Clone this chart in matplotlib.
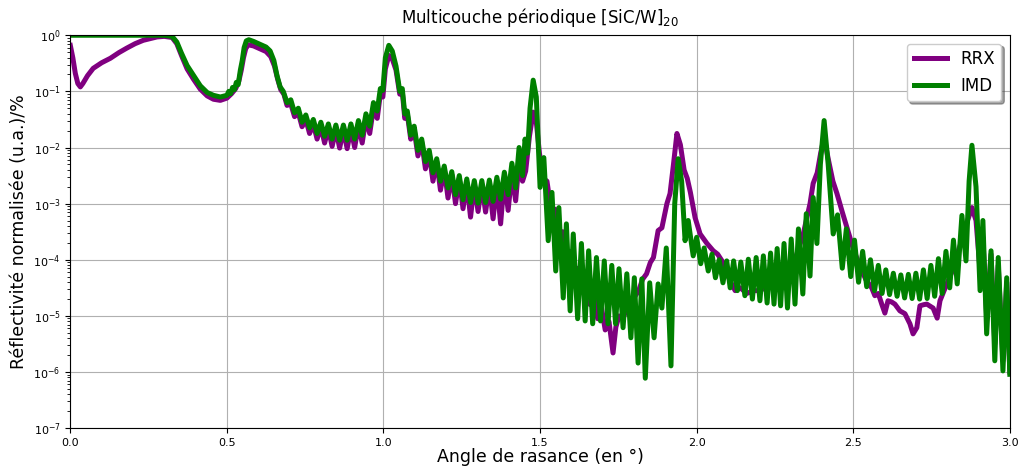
#!/usr/bin/env python3
"Reflectivite X d'une multicouche periodique [SiC/W]20 : mesure RRX et simulation IMD"

import numpy as np
import matplotlib
matplotlib.use("Agg")
import matplotlib.pyplot as plt

# Valeurs : angle (deg) et log10 de la reflectivite normalisee
# (extrema des franges de Kiessig et points de forme)

imd_angle = [
    0.000, 0.100, 0.200, 0.300, 0.325, 0.340, 0.355, 0.373, 0.393, 0.415,
    0.437, 0.457, 0.479, 0.500, 0.506, 0.512, 0.518, 0.524, 0.530, 0.536,
    0.543, 0.549, 0.555, 0.562, 0.570, 0.585, 0.605, 0.625, 0.638, 0.650,
    0.660, 0.670, 0.680,
    0.692, 0.704, 0.716, 0.728, 0.740, 0.752, 0.764, 0.776, 0.788, 0.800,
    0.812, 0.824, 0.836, 0.848, 0.860, 0.872, 0.884, 0.896, 0.908, 0.920,
    0.932, 0.944, 0.956, 0.968, 0.980, 0.990, 0.998, 1.006, 1.017, 1.028,
    1.040, 1.052, 1.060, 1.068, 1.076, 1.087, 1.098, 1.110, 1.122, 1.134,
    1.146, 1.158, 1.170, 1.182, 1.194, 1.206, 1.218, 1.230, 1.242, 1.254,
    1.266, 1.278, 1.290, 1.302, 1.314, 1.326, 1.338, 1.350, 1.362, 1.374,
    1.386, 1.398, 1.410, 1.422, 1.433, 1.444, 1.452, 1.460, 1.468, 1.478,
    1.488, 1.500, 1.512, 1.526, 1.538, 1.550, 1.560, 1.574, 1.584, 1.596,
    1.606, 1.620, 1.632, 1.644, 1.655, 1.668, 1.680, 1.693, 1.705, 1.717,
    1.729, 1.741, 1.752, 1.765, 1.777, 1.790, 1.801, 1.813, 1.825, 1.836,
    1.850, 1.864, 1.877, 1.889, 1.903, 1.918, 1.930, 1.941, 1.952, 1.963,
    1.973, 1.989, 2.000, 2.013, 2.024, 2.037, 2.049, 2.060, 2.072, 2.084,
    2.096, 2.107, 2.118, 2.130, 2.141, 2.154, 2.165, 2.178, 2.190, 2.202,
    2.213, 2.225, 2.236, 2.247, 2.257, 2.268, 2.279, 2.290, 2.302, 2.314,
    2.325, 2.339, 2.350, 2.362, 2.372, 2.384, 2.395, 2.407, 2.420, 2.436,
    2.450, 2.465, 2.478, 2.492, 2.504, 2.517, 2.530, 2.543, 2.555, 2.568,
    2.580, 2.592, 2.604, 2.616, 2.628, 2.640, 2.652, 2.664, 2.676, 2.688,
    2.700, 2.712, 2.724, 2.736, 2.748, 2.760, 2.772, 2.784, 2.796, 2.808,
    2.820, 2.832, 2.847, 2.860, 2.870, 2.879, 2.892, 2.905, 2.914, 2.926,
    2.940, 2.952, 2.963, 2.978, 2.990, 3.000,
]
imd_log_r = [
    0.00, 0.00, 0.00, 0.00, -0.02, -0.12, -0.32, -0.54, -0.71, -0.90,
    -1.02, -1.07, -1.10, -1.07, -1.00, -1.04, -0.93, -0.97, -0.84, -0.88,
    -0.62, -0.45, -0.22, -0.10, -0.08, -0.11, -0.16, -0.21, -0.28, -0.45,
    -0.72, -0.92, -1.00,
    -1.20, -1.15, -1.38, -1.30, -1.55, -1.42, -1.65, -1.50, -1.75, -1.55,
    -1.80, -1.58, -1.85, -1.60, -1.87, -1.60, -1.87, -1.58, -1.85, -1.52,
    -1.78, -1.40, -1.62, -1.20, -1.35, -0.95, -0.98, -0.40, -0.18, -0.28,
    -0.55, -1.00, -0.95, -1.40, -1.35, -1.78, -1.62, -2.05, -1.85, -2.25,
    -2.05, -2.45, -2.20, -2.60, -2.33, -2.72, -2.43, -2.84, -2.50, -2.93,
    -2.56, -2.98, -2.59, -2.99, -2.59, -2.98, -2.58, -2.96, -2.53, -2.92,
    -2.44, -2.84, -2.28, -2.72, -2.00, -2.50, -1.85, -2.10, -1.30, -0.80,
    -1.10, -2.71, -2.18, -3.66, -2.80, -4.20, -3.07, -4.68, -3.36, -4.91,
    -3.54, -5.05, -3.71, -5.09, -3.84, -5.14, -3.96, -5.09, -4.02, -5.14,
    -4.10, -5.14, -4.16, -5.21, -4.25, -5.39, -4.32, -5.84, -4.34, -6.11,
    -4.41, -5.39, -4.43, -4.86, -3.79, -5.89, -3.00, -2.20, -2.60, -3.66,
    -3.30, -3.93, -3.60, -4.07, -3.79, -4.20, -3.90, -4.32, -4.00, -4.41,
    -4.02, -4.50, -4.02, -4.55, -4.04, -4.64, -3.99, -4.70, -3.96, -4.73,
    -3.93, -4.77, -3.88, -4.79, -3.80, -4.82, -3.71, -4.86, -3.63, -4.79,
    -3.45, -4.61, -3.18, -4.29, -2.89, -3.71, -2.30, -1.52, -2.30, -3.54,
    -3.20, -4.15, -3.45, -4.30, -3.65, -4.40, -3.85, -4.48, -4.00, -4.55,
    -4.10, -4.60, -4.18, -4.62, -4.24, -4.65, -4.27, -4.68, -4.26, -4.69,
    -4.24, -4.70, -4.18, -4.69, -4.10, -4.65, -3.98, -4.60, -3.85, -4.50,
    -3.65, -4.43, -3.21, -4.02, -2.60, -1.96, -2.70, -4.55, -3.30, -5.32,
    -3.84, -5.80, -3.96, -5.98, -4.32, -6.04,
]

rrx_angle = [
    0.000, 0.008, 0.016, 0.024, 0.032, 0.040, 0.055, 0.073, 0.100, 0.128,
    0.155, 0.180, 0.207, 0.233, 0.277, 0.300, 0.325, 0.340, 0.355, 0.373,
    0.393, 0.415, 0.437, 0.457, 0.479, 0.500, 0.515, 0.528, 0.538, 0.546,
    0.553, 0.560, 0.568, 0.585, 0.605, 0.625, 0.640, 0.652, 0.662, 0.672,
    0.682,
    0.692, 0.704, 0.716, 0.728, 0.740, 0.752, 0.764, 0.776, 0.788, 0.800,
    0.812, 0.824, 0.836, 0.848, 0.860, 0.872, 0.884, 0.896, 0.908, 0.920,
    0.932, 0.944, 0.956, 0.968, 0.980, 0.990, 0.998, 1.006, 1.017, 1.028,
    1.040, 1.052, 1.060, 1.068, 1.076, 1.087, 1.098, 1.110, 1.122, 1.134,
    1.146, 1.158, 1.170, 1.182, 1.194, 1.206, 1.218, 1.230, 1.242, 1.254,
    1.266, 1.278, 1.290, 1.302, 1.314, 1.326, 1.338, 1.350, 1.362, 1.374,
    1.386, 1.398, 1.410, 1.422, 1.433, 1.444, 1.454, 1.466, 1.478, 1.488,
    1.498, 1.510, 1.522, 1.535, 1.548, 1.560, 1.572, 1.585, 1.597, 1.610,
    1.622, 1.635, 1.647, 1.660, 1.672, 1.684, 1.696, 1.708, 1.720, 1.733,
    1.742, 1.752, 1.765, 1.777, 1.790, 1.803, 1.815, 1.827, 1.840, 1.852,
    1.862, 1.877, 1.889, 1.905, 1.915, 1.926, 1.937, 1.948, 1.960, 1.970,
    1.980, 1.995, 2.011, 2.033, 2.053, 2.067, 2.081, 2.095, 2.107, 2.123,
    2.140, 2.160, 2.180, 2.200, 2.220, 2.240, 2.260, 2.280, 2.300, 2.320,
    2.340, 2.352, 2.362, 2.372, 2.385, 2.396, 2.407, 2.420, 2.435, 2.448,
    2.465, 2.480, 2.500, 2.520, 2.540, 2.559, 2.569, 2.580, 2.591, 2.601,
    2.611, 2.622, 2.633, 2.649, 2.665, 2.681, 2.691, 2.703, 2.713, 2.725,
    2.735, 2.755, 2.768, 2.777, 2.790, 2.805, 2.820, 2.835, 2.850, 2.862,
    2.879, 2.892, 2.905, 2.914, 2.926, 2.940, 2.952, 2.963, 2.978, 2.990,
    3.000,
]
rrx_log_r = [
    -0.18, -0.40, -0.68, -0.86, -0.92, -0.86, -0.72, -0.59, -0.49, -0.41,
    -0.31, -0.23, -0.15, -0.09, -0.03, -0.02, -0.04, -0.15, -0.36, -0.60,
    -0.78, -0.96, -1.08, -1.14, -1.16, -1.12, -1.04, -0.95, -0.82, -0.62,
    -0.40, -0.24, -0.17, -0.19, -0.24, -0.29, -0.38, -0.55, -0.78, -0.97,
    -1.05,
    -1.25, -1.22, -1.45, -1.38, -1.63, -1.50, -1.75, -1.58, -1.85, -1.63,
    -1.92, -1.66, -1.98, -1.68, -2.01, -1.68, -2.02, -1.66, -2.00, -1.60,
    -1.92, -1.48, -1.75, -1.30, -1.48, -1.05, -1.10, -0.60, -0.36, -0.42,
    -0.62, -1.05, -1.00, -1.48, -1.40, -1.85, -1.68, -2.15, -1.90, -2.38,
    -2.10, -2.60, -2.25, -2.76, -2.38, -2.90, -2.48, -3.00, -2.55, -3.09,
    -2.62, -3.24, -2.65, -3.14, -2.66, -3.15, -2.66, -3.27, -2.62, -3.36,
    -2.55, -3.12, -2.45, -2.95, -2.25, -2.60, -2.42, -1.80, -1.37, -1.55,
    -2.10, -2.55, -2.60, -3.10, -3.10, -3.55, -3.50, -3.90, -3.85, -4.25,
    -4.15, -4.55, -4.40, -4.80, -4.65, -5.05, -4.85, -5.25, -5.10, -5.66,
    -5.20, -5.00, -5.05, -4.85, -4.80, -4.65, -4.55, -4.35, -4.25, -4.05,
    -3.96, -3.48, -3.43, -3.00, -2.82, -2.30, -1.75, -1.95, -2.40, -2.55,
    -2.80, -3.25, -3.54, -3.71, -3.84, -3.90, -4.02, -4.20, -4.38, -4.55,
    -4.50, -4.60, -4.55, -4.55, -4.50, -4.45, -4.40, -4.30, -4.15, -3.90,
    -3.55, -3.25, -3.00, -2.64, -2.45, -2.10, -1.82, -2.20, -2.60, -2.82,
    -3.15, -3.43, -3.80, -4.10, -4.35, -4.50, -4.64, -4.60, -4.79, -4.95,
    -4.73, -4.75, -4.79, -4.91, -4.96, -5.14, -5.32, -5.21, -4.82, -4.80,
    -4.79, -4.86, -5.04, -4.73, -4.55, -4.35, -4.15, -3.85, -3.60, -3.35,
    -3.07, -3.30, -4.20, -3.60, -5.00, -3.90, -5.50, -4.10, -5.80, -4.40,
    -6.00,
]

labels = ["RRX", "IMD"]
colors = ["purple", "green"]


def main():
    "Trace la figure"
    fig, axes = plt.subplots(figsize=(10.19, 4.70), dpi=100)
    fig.subplots_adjust(left=0.069, right=0.991, top=0.925, bottom=0.089)

    series = [(rrx_angle, rrx_log_r), (imd_angle, imd_log_r)]
    for (angle, log_r), label, color in zip(series, labels, colors):
        axes.plot(angle, 10.0 ** np.array(log_r), color=color, lw=3.6,
                  label=label)

    axes.set_yscale("log")
    axes.set_xlim(0, 3)
    axes.set_ylim(1e-7, 1)
    axes.set_xticks(np.arange(0, 3.01, 0.5))
    axes.xaxis.set_major_formatter(plt.FormatStrFormatter("%.1f"))
    axes.tick_params(labelsize=8)
    axes.grid(True, color="#b0b0b0", lw=0.8)

    axes.set_title("Multicouche périodique [SiC/W]$_{20}$", fontsize=12, pad=9)
    axes.set_xlabel("Angle de rasance (en °)", fontsize=12.5, labelpad=0)
    axes.set_ylabel("Réflectivité normalisée (u.a.)/%", fontsize=12.5)

    axes.legend(loc="upper right", fontsize=12, shadow=True, fancybox=True)

    fig.savefig("out.png", dpi=100)


if __name__ == "__main__":
    main()
